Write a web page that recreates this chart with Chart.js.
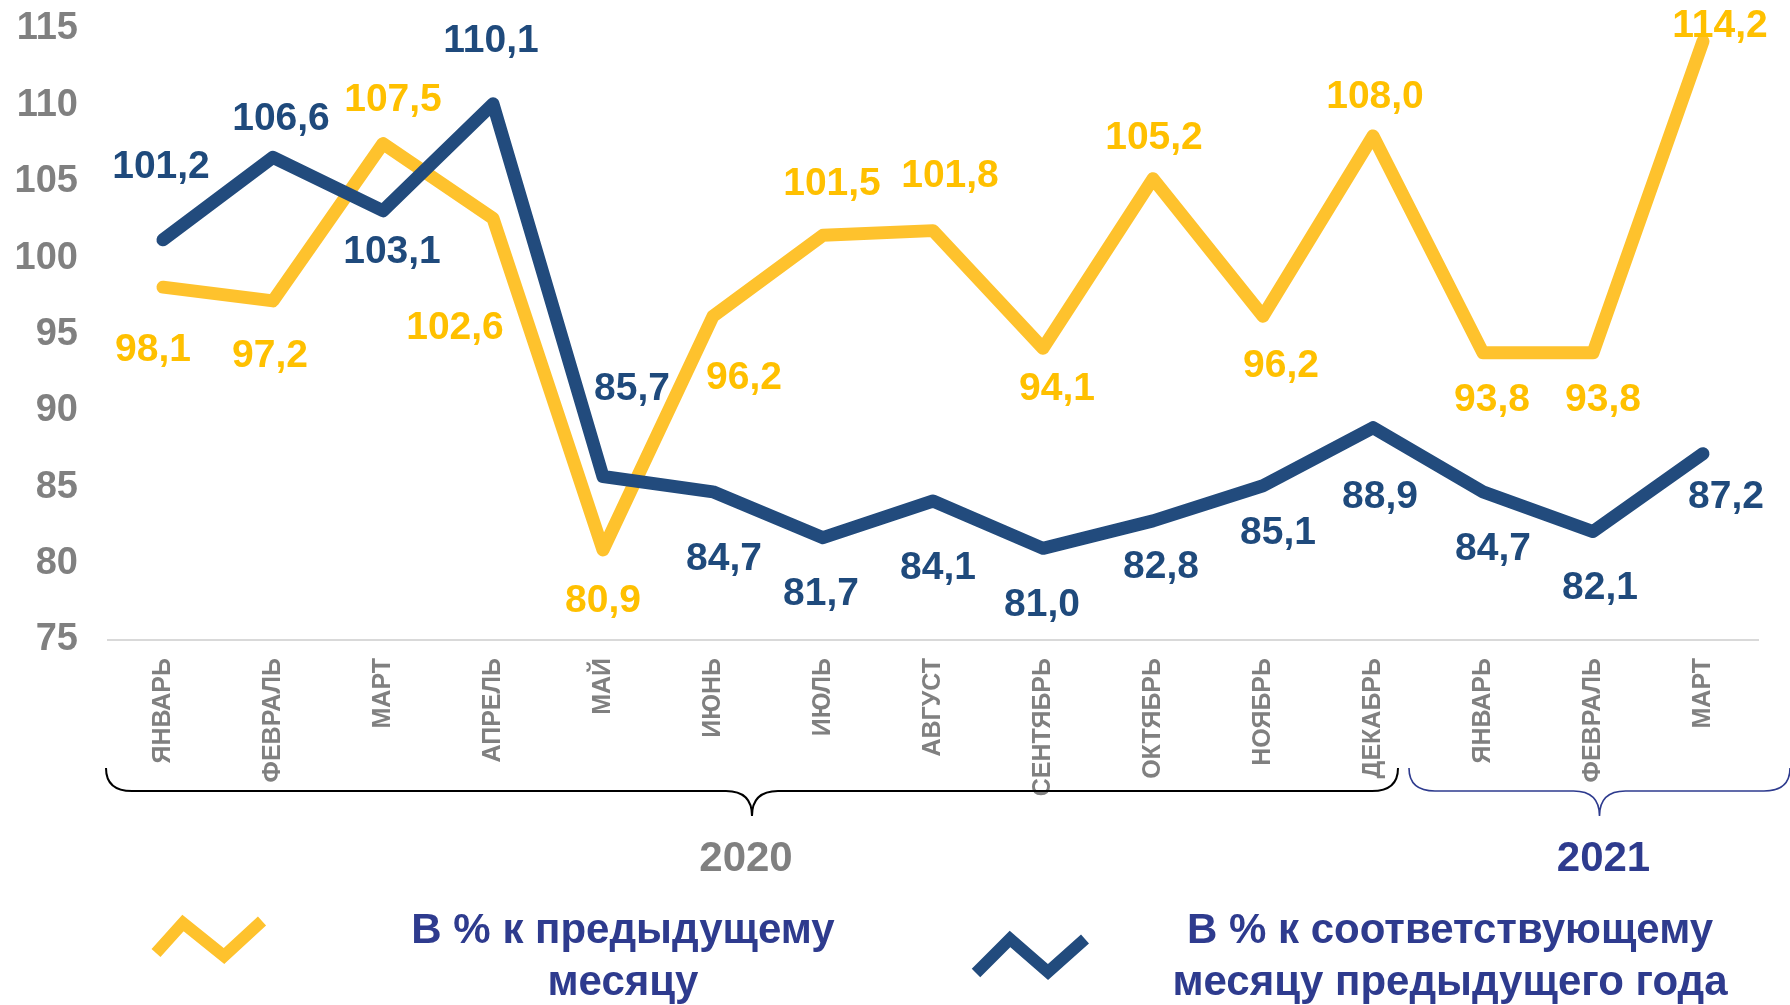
<!DOCTYPE html>
<html lang="ru">
<head>
<meta charset="utf-8">
<script src="https://cdn.jsdelivr.net/npm/chart.js@4.4.1/dist/chart.umd.min.js"></script>
<style>
  html, body { margin: 0; padding: 0; background: #fff; }
  #wrap { width: 1790px; height: 1005px; }
</style>
</head>
<body>
<div id="wrap"><canvas id="chart" width="1790" height="1005"></canvas></div>
<script>
// categories
const months = [
  'ЯНВАРЬ', 'ФЕВРАЛЬ', 'МАРТ', 'АПРЕЛЬ', 'МАЙ', 'ИЮНЬ', 'ИЮЛЬ', 'АВГУСТ',
  'СЕНТЯБРЬ', 'ОКТЯБРЬ', 'НОЯБРЬ', 'ДЕКАБРЬ', 'ЯНВАРЬ', 'ФЕВРАЛЬ', 'МАРТ'
];
const years = ['2020', '2021'];
const yearStart = [0, 12]; // first month index of each year

// series
const toPrevMonth = [98.1, 97.2, 107.5, 102.6, 80.9, 96.2, 101.5, 101.8, 94.1, 105.2, 96.2, 108.0, 93.8, 93.8, 114.2];
const toPrevYear = [101.2, 106.6, 103.1, 110.1, 85.7, 84.7, 81.7, 84.1, 81.0, 82.8, 85.1, 88.9, 84.7, 82.1, 87.2];

const seriesNames = [
  ['В % к предыдущему', 'месяцу'],
  ['В % к соответствующему', 'месяцу предыдущего года']
];

// y axis range
const yMin = 75;
const yMax = 115;
const yStep = 5;

// where each value label sits relative to its point (px)
const prevMonthLabelShift = [
  [-10, 63], [-3, 55], [10, -43], [-38, 110], [0, 51], [31, 62], [9, -51], [17, -54],
  [14, 41], [1, -40], [18, 50], [2, -39], [9, 47], [10, 47], [17, -15]
];
const prevYearLabelShift = [
  [-2, -73], [8, -38], [9, 41], [-2, -63], [29, -87], [11, 67], [-2, 57], [5, 67],
  [-1, 57], [8, 46], [15, 48], [7, 70], [10, 57], [7, 57], [23, 44]
];

const YELLOW = '#FEC22D';
const YELLOW_TEXT = '#FFC000';
const BLUE = '#224B7D';
const BLUE_TEXT = '#1F4A7C';
const NAVY = '#2E3B8E';
const GRAY = '#808080';
const FONT = '"Liberation Sans", Arial, sans-serif';

const fmt = v => v.toFixed(1).replace('.', ',');

// value labels, braces, years and the legend are drawn here
const decorPlugin = {
  id: 'decor',
  afterDatasetsDraw(chart) {
    const ctx = chart.ctx;
    const xs = chart.scales.x;
    const ys = chart.scales.y;
    const shifts = [prevMonthLabelShift, prevYearLabelShift];
    const textColors = [YELLOW_TEXT, BLUE_TEXT];

    ctx.save();
    ctx.font = 'bold 39px ' + FONT;
    ctx.textAlign = 'center';
    ctx.textBaseline = 'middle';
    chart.data.datasets.forEach((ds, d) => {
      ctx.fillStyle = textColors[d];
      ds.data.forEach((v, i) => {
        const x = xs.getPixelForValue(i) + shifts[d][i][0];
        const y = ys.getPixelForValue(v) + shifts[d][i][1];
        ctx.fillText(fmt(v), x, y);
      });
    });
    ctx.restore();
  },
  afterDraw(chart) {
    const ctx = chart.ctx;
    const xs = chart.scales.x;
    const step = xs.getPixelForValue(1) - xs.getPixelForValue(0);

    function brace(x1, x2, color, w) {
      const yTop = 768, yMid = 791, tip = 816, r = 26;
      const cx = (x1 + x2) / 2;
      ctx.beginPath();
      ctx.moveTo(x1, yTop);
      ctx.quadraticCurveTo(x1, yMid, x1 + r, yMid);
      ctx.lineTo(cx - r, yMid);
      ctx.quadraticCurveTo(cx, yMid, cx, tip);
      ctx.quadraticCurveTo(cx, yMid, cx + r, yMid);
      ctx.lineTo(x2 - r, yMid);
      ctx.quadraticCurveTo(x2, yMid, x2, yTop);
      ctx.strokeStyle = color;
      ctx.lineWidth = w;
      ctx.stroke();
      return cx;
    }

    ctx.save();
    const split = xs.getPixelForValue(yearStart[1]) - step / 2;
    const c1 = brace(xs.getPixelForValue(yearStart[0]) - step / 2 - 2, split - 30, '#000', 2);
    const c2 = brace(split - 19, xs.getPixelForValue(months.length - 1) + step / 2 + 32, NAVY, 1.6);

    ctx.font = 'bold 42px ' + FONT;
    ctx.textAlign = 'center';
    ctx.textBaseline = 'middle';
    ctx.fillStyle = GRAY;
    ctx.fillText(years[0], c1 - 6, 859);
    ctx.fillStyle = NAVY;
    ctx.fillText(years[1], c2 + 4, 859);

    // legend
    const items = [
      { color: YELLOW, pts: [[156, 953], [183, 923], [224, 956], [262, 921]], cx: 623 },
      { color: BLUE, pts: [[976, 973], [1010, 939], [1048, 972], [1085, 939]], cx: 1450 }
    ];
    items.forEach((it, k) => {
      ctx.beginPath();
      it.pts.forEach((p, j) => (j ? ctx.lineTo(p[0], p[1]) : ctx.moveTo(p[0], p[1])));
      ctx.strokeStyle = it.color;
      ctx.lineWidth = 12;
      ctx.lineJoin = 'miter';
      ctx.lineCap = 'butt';
      ctx.stroke();
      ctx.fillStyle = NAVY;
      ctx.font = 'bold 42px ' + FONT;
      ctx.fillText(seriesNames[k][0], it.cx, 931);
      ctx.fillText(seriesNames[k][1], it.cx, 983);
    });
    ctx.restore();
  }
};

const ctx = document.getElementById('chart').getContext('2d');
new Chart(ctx, {
  type: 'line',
  data: {
    labels: months,
    datasets: [
      {
        label: seriesNames[0].join(' '),
        data: toPrevMonth,
        borderColor: YELLOW,
        borderWidth: 13,
        pointRadius: 0,
        tension: 0,
        borderJoinStyle: 'round',
        borderCapStyle: 'round',
        order: 2
      },
      {
        label: seriesNames[1].join(' '),
        data: toPrevYear,
        borderColor: BLUE,
        borderWidth: 13,
        pointRadius: 0,
        tension: 0,
        borderJoinStyle: 'round',
        borderCapStyle: 'round',
        order: 1
      }
    ]
  },
  options: {
    responsive: false,
    animation: false,
    devicePixelRatio: 1,
    layout: { padding: { top: 29, right: 32, left: 0, bottom: 0 } },
    plugins: {
      legend: { display: false },
      tooltip: { enabled: false }
    },
    scales: {
      x: {
        offset: true,
        grid: { display: false, drawTicks: false },
        border: { display: true, color: '#D9D9D9', width: 2 },
        afterFit(scale) {
          scale.height = 365;
          scale.paddingTop = 0;
        },
        ticks: {
          autoSkip: false,
          minRotation: 90,
          maxRotation: 90,
          padding: 18,
          color: GRAY,
          font: { family: FONT, size: 25, weight: 'bold' }
        }
      },
      y: {
        min: yMin,
        max: yMax,
        grid: { display: false, drawTicks: false },
        border: { display: false },
        afterFit(scale) {
          scale.width = 108;
          scale.paddingTop = 0;
          scale.paddingBottom = 0;
        },
        ticks: {
          stepSize: yStep,
          padding: 30,
          color: GRAY,
          font: { family: FONT, size: 38, weight: 'bold' }
        }
      }
    }
  },
  plugins: [decorPlugin]
});
</script>
</body>
</html>
